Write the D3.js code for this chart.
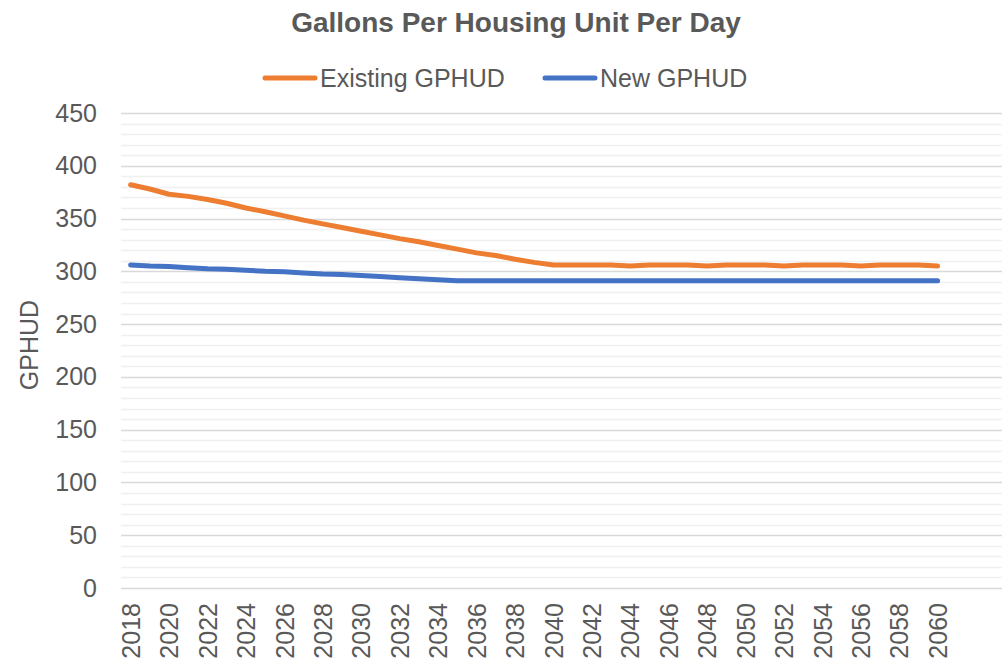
<!DOCTYPE html>
<html lang="en">
<head>
    <meta charset="UTF-8">
    <title>Gallons Per Housing Unit Per Day</title>
    <script src="https://d3js.org/d3.v7.min.js"></script>
    <style>
        body { margin: 0; background: #fff; }
        text { font-family: "Liberation Sans", Arial, sans-serif; fill: #595959; }
    </style>
</head>
<body>
<svg id="chart" width="1008" height="667"></svg>

<script>
    const years = d3.range(2018, 2061);
    const existingGphud = [382, 378, 373, 371, 368, 364.5, 360, 356.5, 352.5, 348.5, 345, 341.5, 338, 334.5, 331, 328, 324.5, 321, 317.5, 315, 311.5, 308.5, 306,
        306, 306, 306, 305, 306, 306, 306, 305, 306, 306, 306, 305, 306, 306, 306, 305, 306, 306, 306, 305];
    const newGphud = [306, 305, 304.5, 303.5, 302.5, 302, 301, 300, 299.5, 298.5, 297.5, 297, 296, 295, 294, 293, 292, 291,
        291, 291, 291, 291, 291, 291, 291, 291, 291, 291, 291, 291, 291, 291, 291, 291, 291, 291, 291, 291, 291, 291, 291, 291, 291];
    const yTicks = [0, 50, 100, 150, 200, 250, 300, 350, 400, 450];
    const seriesNames = ['Existing GPHUD', 'New GPHUD'];
    const ORANGE = '#ed7d31';
    const BLUE = '#4472c4';
    const FONT = '25px';

    const svg = d3.select('#chart');
    const plotLeft = 121, plotRight = 1002, plotTop = 113, plotBottom = 588;

    // year axis: points sit one half step in from the left edge
    const step = (937 - 130) / 42;
    const x = d3.scaleLinear()
        .domain([2017.5, 2017.5 + (plotRight - plotLeft) / step])
        .range([plotLeft, plotRight]);
    const y = d3.scaleLinear().domain([0, 450]).range([plotBottom, plotTop]);

    // minor gridlines every 10, major every 50
    svg.append('g').selectAll('line')
        .data(d3.range(0, 451, 10).filter(v => v % 50 !== 0))
        .join('line')
        .attr('x1', plotLeft).attr('x2', plotRight)
        .attr('y1', d => Math.round(y(d)) + 0.5).attr('y2', d => Math.round(y(d)) + 0.5)
        .attr('stroke', '#f0f0f0').attr('stroke-width', 1.5);
    svg.append('g').selectAll('line')
        .data(yTicks)
        .join('line')
        .attr('x1', plotLeft).attr('x2', plotRight)
        .attr('y1', d => Math.round(y(d)) + 0.5).attr('y2', d => Math.round(y(d)) + 0.5)
        .attr('stroke', '#d9d9d9').attr('stroke-width', 1.5);

    // y axis labels
    const yAxis = d3.axisLeft(y).tickValues(yTicks).tickSize(0).tickPadding(24);
    svg.append('g')
        .attr('transform', `translate(${plotLeft},0)`)
        .call(yAxis)
        .call(g => g.select('.domain').remove())
        .selectAll('text')
        .style('font-size', FONT)
        .attr('fill', '#595959');

    // x axis labels, every other year, rotated
    const xAxis = d3.axisBottom(x)
        .tickValues(years.filter(v => (v - 2018) % 2 === 0))
        .tickFormat(d3.format('d'))
        .tickSize(0);
    svg.append('g')
        .attr('transform', `translate(0,${plotBottom})`)
        .call(xAxis)
        .call(g => g.select('.domain').remove())
        .selectAll('text')
        .style('font-size', FONT)
        .attr('fill', '#595959')
        .attr('text-anchor', 'end')
        .attr('transform', 'rotate(-90)')
        .attr('x', -15)
        .attr('y', 0)
        .attr('dy', '0.35em');

    // axis title
    svg.append('text')
        .attr('transform', `translate(38,${345}) rotate(-90)`)
        .attr('text-anchor', 'middle')
        .style('font-size', FONT)
        .text('GPHUD');

    // chart title
    svg.append('text')
        .attr('x', 516).attr('y', 32)
        .attr('text-anchor', 'middle')
        .style('font-size', '28px')
        .style('font-weight', 'bold')
        .text('Gallons Per Housing Unit Per Day');

    // lines
    const line = d3.line()
        .x((d, i) => x(years[i]))
        .y(d => y(d));
    [[existingGphud, ORANGE], [newGphud, BLUE]].forEach(([vals, col]) => {
        svg.append('path')
            .datum(vals)
            .attr('fill', 'none')
            .attr('stroke', col)
            .attr('stroke-width', 5)
            .attr('stroke-linecap', 'round')
            .attr('stroke-linejoin', 'round')
            .attr('d', line);
    });

    // legend
    const legend = svg.append('g');
    const legendX = [265, 545];
    seriesNames.forEach((name, i) => {
        const g = legend.append('g').attr('transform', `translate(${legendX[i]},78)`);
        g.append('line')
            .attr('x1', 0).attr('x2', 50)
            .attr('stroke', i === 0 ? ORANGE : BLUE)
            .attr('stroke-width', 5)
            .attr('stroke-linecap', 'round');
        g.append('text')
            .attr('x', 55).attr('y', 0)
            .attr('dy', '0.35em')
            .style('font-size', FONT)
            .text(name);
    });
</script>
</body>
</html>
